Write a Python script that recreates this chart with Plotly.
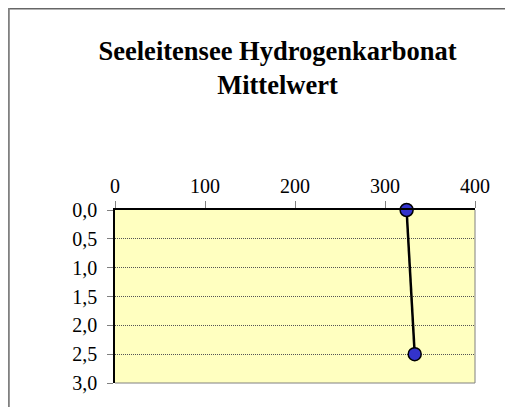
import plotly.graph_objects as go

# Data
depth = [0.0, 2.5]
hco3 = [324, 333]
x_ticks = [0, 100, 200, 300, 400]
y_ticks = [0.0, 0.5, 1.0, 1.5, 2.0, 2.5, 3.0]
title_text = "<b>Seeleitensee Hydrogenkarbonat<br>Mittelwert</b>"

# page has an 8px body margin -> figure coordinates = screen - 8
OFF = 8
W, H = 513, 407
ML, MT = 115 - OFF, 210 - OFF
PW, PH = 360, 173
MR, MB = W - ML - PW, H - MT - PH

def px(x):
    return (x - OFF - ML) / PW

def py(y):
    return 1 - (y - OFF - MT) / PH

fig = go.Figure()
fig.add_trace(go.Scatter(
    x=hco3, y=depth, mode="lines+markers",
    line=dict(color="black", width=2.5),
    marker=dict(size=13, color="#3333CC", line=dict(color="black", width=1.5)),
    cliponaxis=False, showlegend=False,
))

font = "Liberation Serif, Times New Roman, serif"
fig.update_layout(
    width=W, height=H,
    margin=dict(l=ML, r=MR, t=MT, b=MB),
    paper_bgcolor="white",
    plot_bgcolor="#FFFFC0",
    separators=",.",
    font=dict(family=font, size=20, color="black"),
    title=dict(text=title_text, x=(277.5 - OFF) / W, xanchor="center",
               y=1 - (60 - OFF) / H, yanchor="top", yref="container",
               font=dict(family=font, size=26.5, color="black")),
    xaxis=dict(range=[0, 400], tickvals=x_ticks, side="top",
               showgrid=False, zeroline=False, showline=True,
               linecolor="black", linewidth=1.5,
               ticks="outside", ticklen=7, tickcolor="#808080",
               tickfont=dict(family=font, size=20)),
    yaxis=dict(range=[3, 0], tickvals=y_ticks, tickformat=".1f",
               showgrid=True, gridcolor="#555555", griddash="1px,1px", gridwidth=1,
               zeroline=False, showline=True, linecolor="black", linewidth=1.5,
               ticks="outside", ticklen=6, tickcolor="#808080",
               ticklabelstandoff=6,
               tickfont=dict(family=font, size=20)),
    shapes=[
        # plot area right and bottom border
        dict(type="line", xref="paper", yref="paper", x0=1, x1=1, y0=0, y1=1,
             line=dict(color="#808080", width=1)),
        dict(type="line", xref="paper", yref="paper", x0=0, x1=1, y0=0, y1=0,
             line=dict(color="#808080", width=1)),
        # outer frame
        dict(type="line", xref="paper", yref="paper", x0=px(0), x1=px(W + 20), y0=py(8.7), y1=py(8.7),
             line=dict(color="#666666", width=1.5)),
        dict(type="line", xref="paper", yref="paper", x0=px(8.8), x1=px(8.8), y0=py(8), y1=py(H + 20),
             line=dict(color="#808080", width=2)),
    ],
)

fig.write_html("out.html")
